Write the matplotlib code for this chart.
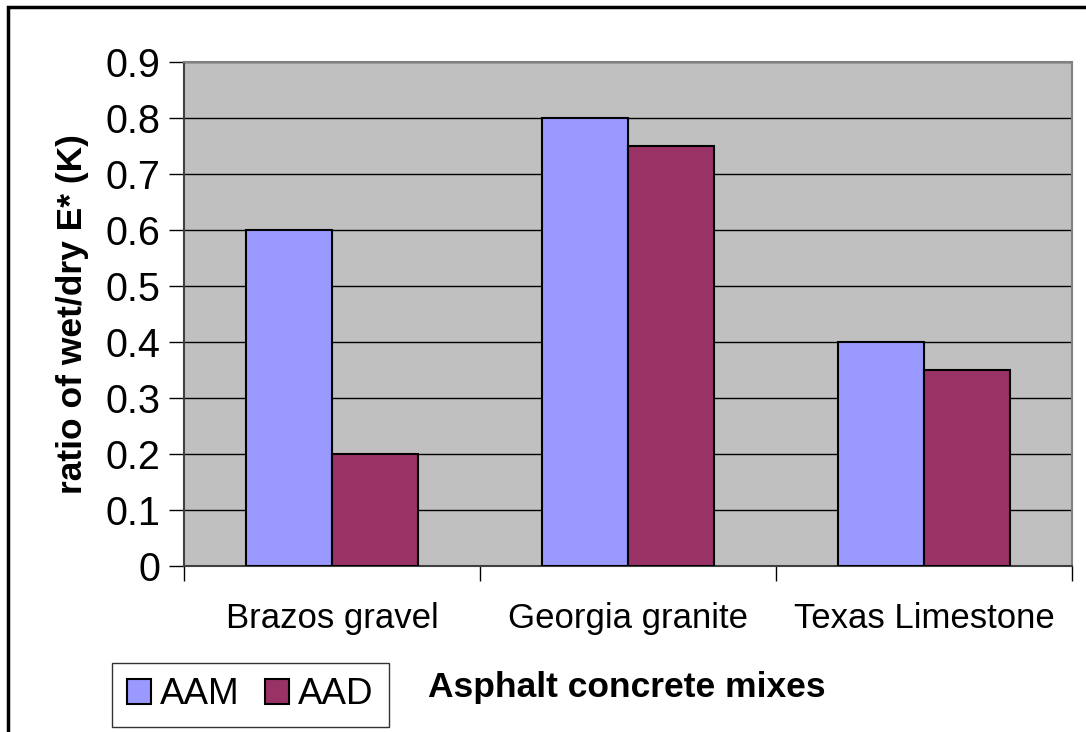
import matplotlib.pyplot as plt
import numpy as np
from matplotlib.patches import Rectangle

plt.rcParams['font.family'] = ['Liberation Sans', 'DejaVu Sans']

# data
mixes = ['Brazos gravel', 'Georgia granite', 'Texas Limestone']
aam = [0.6, 0.8, 0.4]
aad = [0.2, 0.75, 0.35]
yticks = [0, 0.1, 0.2, 0.3, 0.4, 0.5, 0.6, 0.7, 0.8, 0.9]

fig = plt.figure(figsize=(10.86, 7.32), dpi=100)
W, H = 1086, 732
ax = fig.add_axes([184 / W, 1 - 566 / H, (1072 - 184) / W, (566 - 62) / H])
ax.set_facecolor('#C0C0C0')

x = np.arange(len(mixes))
bw = 0.29
ax.bar(x - bw / 2, aam, bw, color='#9999FF', edgecolor='black', linewidth=1.5, label='AAM', zorder=3)
ax.bar(x + bw / 2, aad, bw, color='#993366', edgecolor='black', linewidth=1.5, label='AAD', zorder=3)

ax.set_xlim(-0.5, 2.5)
ax.set_ylim(0, 0.9)
ax.set_yticks(yticks)
ax.set_yticklabels(['0'] + ['%.1f' % v for v in yticks[1:]], fontsize=28.5)
ax.yaxis.grid(True, color='black', linewidth=1, zorder=1)
ax.tick_params(axis='y', length=11, width=1, pad=6)

# category boundary ticks
ax.set_xticks([-0.5, 0.5, 1.5, 2.5])
ax.set_xticklabels([])
ax.set_xticks(x, minor=True)
ax.set_xticklabels(mixes, minor=True, fontsize=25)
ax.tick_params(axis='x', which='major', length=11, width=1, color='black')
ax.tick_params(axis='x', which='minor', length=0, pad=26)

for s in ['left', 'bottom']:
    ax.spines[s].set_color('#404040')
    ax.spines[s].set_linewidth(1.5)
for s in ['top', 'right']:
    ax.spines[s].set_color('#808080')
    ax.spines[s].set_linewidth(1.5)

ax.set_ylabel('ratio of wet/dry E* (K)', fontsize=25.5, fontweight='bold', labelpad=12)
fig.text(627 / W, 1 - 687 / H, 'Asphalt concrete mixes', fontsize=25.5, fontweight='bold',
         ha='center', va='center')

leg = fig.legend(loc='lower left', bbox_to_anchor=(112 / W, 1 - 727 / H), ncol=2,
                 fontsize=26.5, frameon=True, fancybox=False, edgecolor='black',
                 handlelength=0.65, handleheight=0.65, handletextpad=0.25, columnspacing=0.7,
                 borderpad=0.4, borderaxespad=0)
leg.get_frame().set_linewidth(1)

# outer chart border (extends past right/bottom of image)
fig.patches.append(Rectangle((8 / W, -0.05), 1.1, 1 - 7 / H + 0.05, transform=fig.transFigure,
                             fill=False, edgecolor='black', linewidth=2.5))

fig.savefig('out.png', dpi=100)
